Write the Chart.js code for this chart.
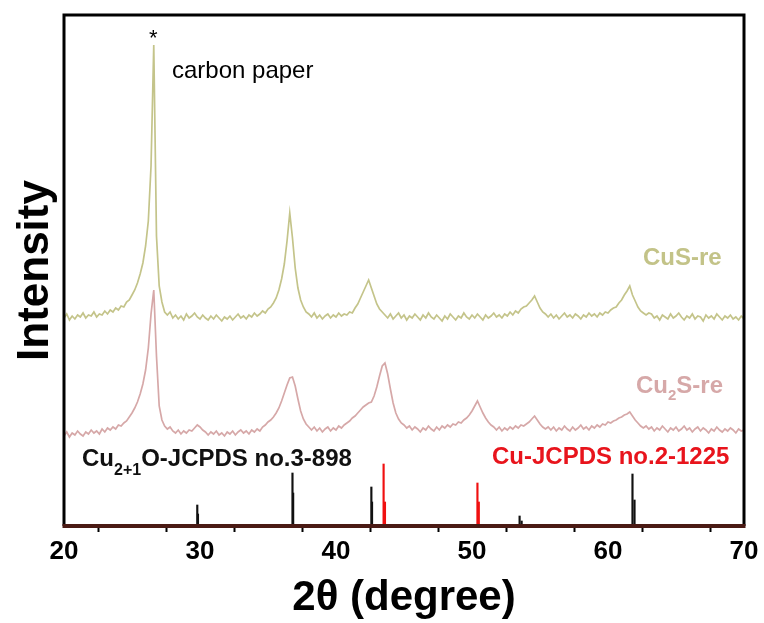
<!DOCTYPE html>
<html>
<head>
<meta charset="utf-8">
<script src="https://cdn.jsdelivr.net/npm/chart.js@4.4.1/dist/chart.umd.min.js"></script>
<style>
	html, body { margin: 0; padding: 0; background: #ffffff; }
	#wrap { width: 764px; height: 623px; }
</style>
</head>
<body>
<div id="wrap"><canvas id="xrd"></canvas></div>
<script>
// 2theta grid of the scans, 20..70 deg every 0.2 deg
const twoTheta = Array.from({ length: 251 }, (_, i) => +(20 + i * 0.2).toFixed(1));

// CuS-re scan (offset, arbitrary units)
const cusRe = [
	208, 212, 206, 210, 207, 211, 209, 213, 208, 211, 210, 214, 209, 212, 211, 215, 212, 216, 214, 218, 216,
	220, 219, 224, 226, 231, 236, 243, 252, 263, 280, 305, 360, 481, 290, 240, 224, 214, 211, 214, 208,
	211, 207, 210, 206, 212, 208, 210, 213, 209, 207, 211, 208, 206, 210, 207, 211, 208, 205, 209, 207,
	210, 206, 209, 212, 208, 210, 207, 211, 209, 213, 210, 212, 215, 213, 217,
	219, 223, 228, 236, 247, 262, 285, 313, 288, 258, 238, 226, 219, 214, 212,
	209, 213, 208, 211, 207, 210, 212, 208, 211, 209, 213, 210, 212, 211, 214, 213,
	218, 222, 228, 234, 240, 246, 238, 230, 222, 217, 214, 211,
	208, 212, 207, 210, 213, 208, 211, 206, 210, 208, 212, 209, 206, 211, 208, 213, 209, 207, 211, 208,
	205, 210, 207, 212, 209, 206, 210, 208, 213, 209, 207, 211, 208, 212, 209, 206, 211, 208, 210, 213,
	209, 211, 208, 212, 210, 214, 211, 215, 213, 217,
	219, 220, 223, 226, 230, 224, 218, 214, 212, 209,
	212, 208, 211, 207, 210, 213, 209, 211, 208, 212, 210, 207, 211, 209, 213, 210, 212, 209, 213, 211,
	214, 213, 216, 218,
	219, 223, 226, 231, 235, 240, 231, 225, 219, 215, 213, 211, 213,
	212, 208, 210, 206, 211, 209, 207, 212, 208, 210, 213, 209, 206, 210, 208, 212, 207, 210, 209, 205,
	211, 208, 210, 207, 212, 209, 206, 210, 208, 211, 207, 209, 206, 210, 207,
];

// Cu2S-re scan (offset, arbitrary units)
const cu2sRe = [
	90, 94, 89, 93, 91, 95, 92, 90, 94, 92, 96, 93, 95, 92, 97, 94, 98, 96, 99, 97, 101,
	100, 103, 105, 109, 113, 118, 124, 132, 142, 156, 178, 212, 236, 170, 120, 106, 100, 97, 99, 95,
	93, 96, 92, 95, 93, 96, 95, 98, 101, 99, 96, 94, 91, 94, 92, 95, 91, 93, 90, 94,
	92, 95, 91, 94, 96, 93, 95, 92, 96, 94, 97, 95, 99, 101, 104,
	106, 109, 113, 118, 125, 133, 141, 148, 149, 140, 127, 115, 107, 102, 99,
	96, 99, 95, 98, 94, 97, 99, 95, 98, 96, 100, 98, 101, 103, 105, 108,
	110, 113, 116, 119, 121, 123, 124, 130, 139, 150, 160, 163,
	152, 137, 123, 113, 107, 103, 101, 98, 100, 96, 99, 97, 94, 98, 96, 100, 97, 95, 99, 96,
	100, 98, 101, 99, 102, 101, 104, 103, 106, 108, 111, 115, 120, 125, 119, 113, 108, 104, 101, 99,
	96, 99, 95, 98, 96, 99, 97, 100, 98, 101,
	100, 102, 104, 107, 110, 106, 102, 99, 97, 99,
	96, 99, 95, 98, 96, 100, 97, 95, 99, 96, 98, 101, 97, 99, 96, 100, 98, 101, 99, 102,
	101, 104, 103, 105,
	106, 108, 109, 111, 112, 114, 110, 106, 103, 100, 98, 100, 97,
	99, 95, 98, 96, 100, 97, 94, 98, 96, 99, 95, 97, 100, 96, 98, 94, 97, 99, 95, 98,
	96, 93, 97, 95, 99, 96, 94, 97, 95, 98, 96, 93, 97, 95, 96,
];

// reference patterns (stick positions and heights)
const cu2oPeaks = [29.8, 29.85, 36.8, 36.85, 42.6, 42.65, 53.5, 53.65, 61.8, 61.95];
const cu2oHeights = [21, 12, 53, 33, 39, 24, 10, 5, 52, 26];
const cuPeaks = [43.5, 43.6, 50.4, 50.5];
const cuHeights = [62, 24, 43, 24];

const xTicks = [20, 30, 40, 50, 60, 70];

const toPoints = (xs, ys) => xs.map((x, i) => ({ x: x, y: ys[i] }));

// frame round the plot and the texts inside it
const framePlugin = {
	id: "frame",
	afterDatasetsDraw(chart) {
		const { ctx, chartArea: a } = chart;
		ctx.save();
		ctx.strokeStyle = "#000000";
		ctx.lineWidth = 3;
		ctx.beginPath();
		ctx.moveTo(a.left, a.bottom);
		ctx.lineTo(a.left, a.top);
		ctx.lineTo(a.right, a.top);
		ctx.lineTo(a.right, a.bottom);
		ctx.stroke();
		ctx.strokeStyle = "#4a1a14";
		ctx.lineWidth = 4;
		ctx.beginPath();
		ctx.moveTo(a.left - 1.5, a.bottom);
		ctx.lineTo(a.right + 1.5, a.bottom);
		ctx.stroke();

		ctx.textBaseline = "alphabetic";
		ctx.textAlign = "left";
		ctx.fillStyle = "#000000";
		ctx.font = "22px 'Liberation Sans', Arial, sans-serif";
		ctx.fillText("*", 149, 45);
		ctx.font = "24px 'Liberation Sans', Arial, sans-serif";
		ctx.fillText("carbon paper", 172, 78);

		ctx.font = "bold 24px 'Liberation Sans', Arial, sans-serif";
		ctx.fillStyle = "#c3c388";
		ctx.fillText("CuS-re", 643, 265);

		ctx.fillStyle = "#d6a8a8";
		let x = 636;
		ctx.fillText("Cu", x, 393);
		x += ctx.measureText("Cu").width;
		ctx.font = "bold 15px 'Liberation Sans', Arial, sans-serif";
		ctx.fillText("2", x, 400);
		x += ctx.measureText("2").width;
		ctx.font = "bold 24px 'Liberation Sans', Arial, sans-serif";
		ctx.fillText("S-re", x, 393);

		ctx.fillStyle = "#111111";
		x = 82;
		ctx.fillText("Cu", x, 466);
		x += ctx.measureText("Cu").width;
		ctx.font = "bold 16px 'Liberation Sans', Arial, sans-serif";
		ctx.fillText("2+1", x, 475);
		x += ctx.measureText("2+1").width;
		ctx.font = "bold 24px 'Liberation Sans', Arial, sans-serif";
		ctx.fillText("O-JCPDS no.3-898", x, 466);

		ctx.fillStyle = "#e8141c";
		ctx.fillText("Cu-JCPDS no.2-1225", 492, 464);
		ctx.restore();
	},
};

new Chart(document.getElementById("xrd"), {
	type: "line",
	data: {
		datasets: [
			{
				label: "CuS-re",
				data: toPoints(twoTheta, cusRe),
				borderColor: "rgba(196, 196, 138, 1)",
				borderWidth: 1.7,
				pointRadius: 0,
				tension: 0,
			},
			{
				label: "Cu2S-re",
				data: toPoints(twoTheta, cu2sRe),
				borderColor: "rgba(214, 168, 168, 1)",
				borderWidth: 1.7,
				pointRadius: 0,
				tension: 0,
			},
			{
				type: "bar",
				label: "Cu2+1O-JCPDS no.3-898",
				data: toPoints(cu2oPeaks, cu2oHeights),
				backgroundColor: "#111111",
				barThickness: 1.5,
				grouped: false,
			},
			{
				type: "bar",
				label: "Cu-JCPDS no.2-1225",
				data: toPoints(cuPeaks, cuHeights),
				backgroundColor: "#f01010",
				barThickness: 1.5,
				grouped: false,
			},
		],
	},
	options: {
		responsive: true,
		maintainAspectRatio: false,
		animation: false,
		events: [],
		layout: { padding: { top: 15, right: 20, left: 0, bottom: 0 } },
		plugins: {
			legend: { display: false },
			tooltip: { enabled: false },
		},
		scales: {
			x: {
				type: "linear",
				min: 20,
				max: 70,
				offset: false,
				afterFit: (scale) => { scale.height = 97; },
				afterBuildTicks: (scale) => {
					scale.ticks = [20, 25, 30, 35, 40, 45, 50, 55, 60, 65, 70].map((v) => ({ value: v }));
				},
				ticks: {
					autoSkip: false,
					maxRotation: 0,
					padding: 4,
					color: "#000000",
					font: { family: "'Liberation Sans', Arial, sans-serif", size: 26, weight: "bold" },
					callback: (v) => (xTicks.includes(v) ? v : ""),
				},
				grid: {
					drawOnChartArea: false,
					tickLength: 6,
					tickWidth: 2,
					tickColor: "#000000",
				},
				border: { display: false },
				title: {
					display: true,
					text: "2θ (degree)",
					color: "#000000",
					font: { family: "'Liberation Sans', Arial, sans-serif", size: 42, weight: "bold", lineHeight: 1 },
					padding: { bottom: 4 },
				},
			},
			y: {
				min: 0,
				max: 511,
				afterFit: (scale) => { scale.width = 64; },
				ticks: { display: false },
				grid: { display: false },
				border: { display: false },
				title: {
					display: true,
					text: "Intensity",
					color: "#000000",
					font: { family: "'Liberation Sans', Arial, sans-serif", size: 44, weight: "bold", lineHeight: 1 },
					padding: { top: 14 },
				},
			},
		},
	},
	plugins: [framePlugin],
});
</script>
</body>
</html>
